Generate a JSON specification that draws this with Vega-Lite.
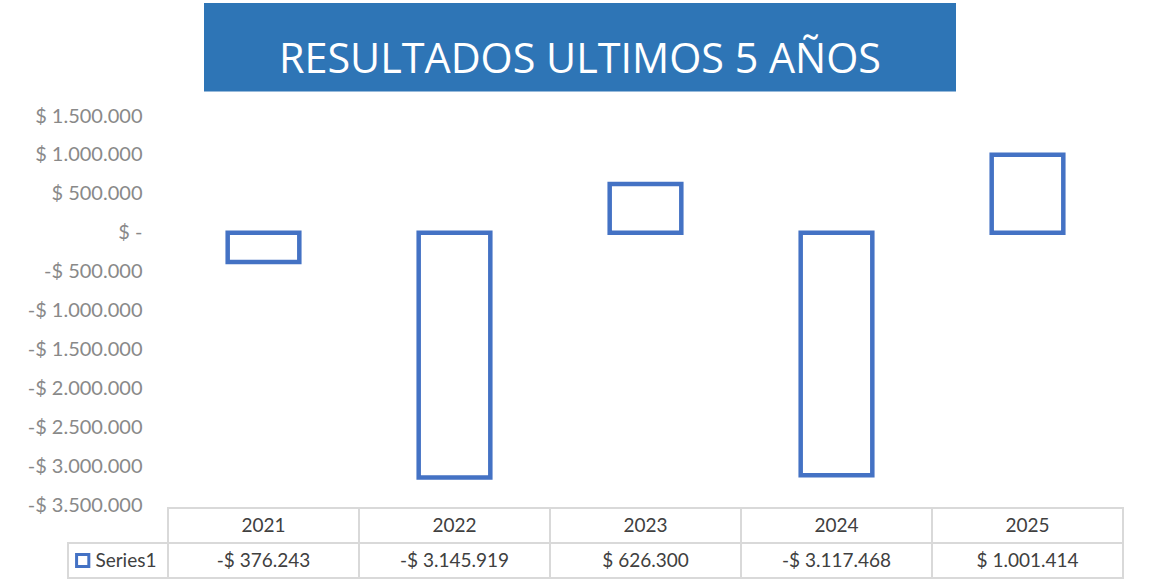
{
  "$schema": "https://vega.github.io/schema/vega-lite/v6.json",
  "background": "white",
  "padding": {"left": 27, "top": 3, "right": 5, "bottom": 5},
  "config": {
    "view": {"stroke": null},
    "font": "Lato",
    "locale": {"number": {"decimal": ",", "thousands": ".", "grouping": [3], "currency": ["$ ", ""], "minus": "-"}}
  },
  "datasets": {
    "results": [
      {"year": "2021", "value": -376243},
      {"year": "2022", "value": -3145919},
      {"year": "2023", "value": 626300},
      {"year": "2024", "value": -3117468},
      {"year": "2025", "value": 1001414}
    ],
    "titleText": [{"title": "RESULTADOS ULTIMOS 5 AÑOS"}],
    "legendText": [{"label": "Series1"}],
    "blank": [{"label": ""}]
  },
  "spacing": 14,
  "vconcat": [
    {
      "bounds": "flush",
      "spacing": 0,
      "hconcat": [
        {
          "width": 135.7, "height": 88.4,
          "data": {"name": "blank"},
          "mark": {"type": "text"},
          "encoding": {"text": {"field": "label"}}
        },
        {
          "width": 752, "height": 88.4,
          "view": {"fill": "#2E75B6", "stroke": null},
          "data": {"name": "titleText"},
          "mark": {"type": "text", "font": "Open Sans", "fontSize": 41.3, "fontWeight": 500, "color": "white", "baseline": "alphabetic", "align": "center", "dy": 25.8},
          "encoding": {"text": {"field": "title"}}
        }
      ]
    },
    {
      "bounds": "flush",
      "columns": 2,
      "spacing": {"row": 3, "column": 0},
      "concat": [
        {
          "width": 100, "height": 389,
          "data": {"name": "blank"},
          "mark": {"type": "text"},
          "encoding": {"text": {"field": "label"}}
        },
        {
          "width": 955, "height": 389,
          "data": {"name": "results"},
          "mark": {"type": "bar", "fill": "white", "stroke": "#4472C4", "strokeWidth": 4.5},
          "encoding": {
            "x": {"field": "year", "type": "nominal", "axis": null,
                  "scale": {"paddingInner": 0.625, "paddingOuter": 0.3125}},
            "y": {"field": "value", "type": "quantitative",
                  "scale": {"domain": [-3500000, 1500000], "nice": false},
                  "axis": {"title": null, "domain": false, "ticks": false, "grid": false,
                           "values": [-3500000, -3000000, -2500000, -2000000, -1500000, -1000000, -500000, 0, 500000, 1000000, 1500000],
                           "format": "$,d",
                           "labelExpr": "datum.value == 0 ? '$ -\u00a0\u00a0\u00a0' : datum.label",
                           "labelFont": "Lato", "labelFontSize": 20, "labelColor": "#898989",
                           "labelPadding": 26}}
          }
        },
        {
          "width": 100, "height": 70,
          "data": {"name": "legendText"},
          "encoding": {
            "y": {"datum": "data", "type": "nominal", "axis": null,
                  "scale": {"domain": ["header", "data"], "paddingInner": 0, "paddingOuter": 0}}
          },
          "layer": [
            {"mark": {"type": "rect", "fill": "white", "stroke": "#d9d9d9", "strokeWidth": 2}},
            {"mark": {"type": "point", "shape": "square", "size": 150, "filled": false, "fill": "white", "fillOpacity": 1, "stroke": "#4472C4", "strokeWidth": 3, "opacity": 1},
             "encoding": {"xOffset": {"value": -35.3}}},
            {"mark": {"type": "text", "align": "left", "baseline": "middle", "fontSize": 19, "color": "#404040", "dx": -22.6},
             "encoding": {"text": {"field": "label"}}}
          ]
        },
        {
          "width": 955, "height": 70,
          "data": {"name": "results"},
          "encoding": {
            "x": {"field": "year", "type": "nominal", "axis": null,
                  "scale": {"paddingInner": 0, "paddingOuter": 0}}
          },
          "layer": [
            {"mark": {"type": "rect", "fill": "white", "stroke": "#d9d9d9", "strokeWidth": 2},
             "encoding": {"y": {"datum": "header", "type": "nominal", "axis": null,
                                "scale": {"domain": ["header", "data"], "paddingInner": 0, "paddingOuter": 0}}}},
            {"mark": {"type": "rect", "fill": "white", "stroke": "#d9d9d9", "strokeWidth": 2},
             "encoding": {"y": {"datum": "data", "type": "nominal"}}},
            {"mark": {"type": "text", "baseline": "middle", "fontSize": 19, "color": "#404040"},
             "encoding": {"y": {"datum": "header", "type": "nominal"}, "text": {"field": "year"}}},
            {"mark": {"type": "text", "baseline": "middle", "fontSize": 19, "color": "#404040"},
             "encoding": {"y": {"datum": "data", "type": "nominal"}, "text": {"field": "value", "type": "quantitative", "format": "$,d"}}}
          ]
        }
      ]
    }
  ]
}
